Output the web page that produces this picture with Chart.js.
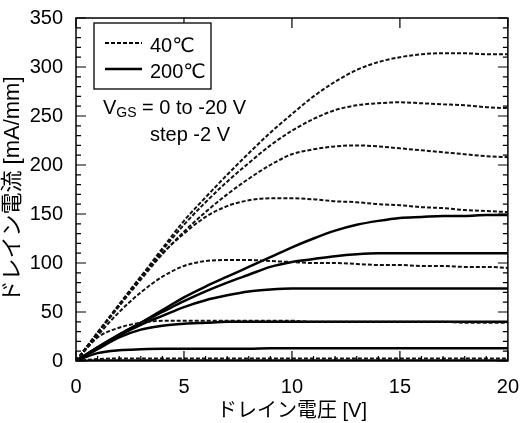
<!DOCTYPE html>
<html>
<head>
<meta charset="utf-8">
<title>ドレイン電流 - ドレイン電圧</title>
<script src="https://cdn.jsdelivr.net/npm/chart.js"></script>
<style>
  body { margin:0; background:#fff; }
  #wrap { width:525px; height:423px; }
</style>
</head>
<body>
<div id="wrap"><canvas id="ivChart" width="525" height="423"></canvas></div>
<script>
// drain voltage [V]
const vds = [0,1,2,3,4,5,6,7,8,9,10,11,12,13,14,15,16,17,18,19,20];

// 40°C, VGS = 0, -2, -4 ...
const d40_0  = [0,29,57,86,115,143,167,190,212,233,252,270,285,297,305,310,313,314,314,313,313];
const d40_2  = [0,29,57,85,113,139,162,183,202,220,235,247,256,261,263,264,263,262,261,259,258];
const d40_4  = [0,28,56,83,109,132,152,170,186,200,211,216,219,220,219,217,215,213,211,209,208];
const d40_6  = [0,29,58,86,110,130,147,158,164,166,166,165,163,162,160,159,157,156,154,153,152];
const d40_8  = [0,26,50,70,86,97,102,103,103,102,101,100,100,99,98,98,97,97,96,96,95];
const d40_10 = [0,24,34,39,41,41,41,41,41,41,41,40,40,40,40,40,40,40,39,39,39];
const d40_12 = [0,2,2.5,2.5,2.5,2.5,2.5,2.5,2.5,2.5,2.5,2.5,2.5,2.5,2.5,2.5,2.5,2.5,2.5,2.5,2.5];

// 200°C
const d200_0  = [0,14,27,39,52,65,76,86,96,106,116,125,133,139,143,146,147,148,148,149,149];
const d200_2  = [0,14,27,39,50,61,71,80,88,96,101,104,107,109,110,110,110,110,110,110,110];
const d200_4  = [0,13,26,37,46,55,62,67,71,73,74,74,74,74,74,74,74,74,74,74,74];
const d200_6  = [0,12,24,32,36,38,39,40,40,40,40,40,40,40,40,40,40,40,40,40,40];
const d200_8  = [0,8,11,12,12.5,12.5,12.5,12.5,12.5,13,13,13,13,13,13,13,13,13,13,13,13];
const d200_10 = [0,0.5,0.5,0.5,0.5,0.5,0.5,0.5,0.5,0.5,0.5,0.5,0.5,0.5,0.5,0.5,0.5,0.5,0.5,0.5,0.5];

const xTicks = [0,5,10,15,20];
const yTicks = [0,50,100,150,200,250,300,350];

const FONT = '"Liberation Sans", Arial, "DejaVu Sans", "Noto Sans CJK JP", sans-serif';
const JFONT = '"Liberation Sans", Arial, "Noto Sans CJK JP", sans-serif';

function pts(arr){ return arr.map((v,i)=>({x:vds[i], y:v})); }

const dashed = [d40_0,d40_2,d40_4,d40_6,d40_8,d40_10,d40_12].map(a=>({
  data: pts(a), borderColor:'#111', borderWidth:2, borderDash:[4,2],
  pointRadius:0, cubicInterpolationMode:'monotone', fill:false
}));
const solid = [d200_0,d200_2,d200_4,d200_6,d200_8,d200_10].map(a=>({
  data: pts(a), borderColor:'#000', borderWidth:2.5,
  pointRadius:0, cubicInterpolationMode:'monotone', fill:false
}));

// frame, inward ticks, legend box and the VGS note
const decor = {
  id:'decor',
  afterDraw(chart){
    const ctx = chart.ctx, a = chart.chartArea;
    const xs = chart.scales.x, ys = chart.scales.y;
    ctx.save();
    ctx.strokeStyle = '#000';
    ctx.lineWidth = 1.5;
    ctx.strokeRect(a.left, a.top, a.right-a.left, a.bottom-a.top);
    ctx.lineWidth = 1.2;
    ctx.beginPath();
    for(let v=0; v<=20; v++){
      const p = xs.getPixelForValue(v);
      const major = v%5===0;
      const len = major ? 10 : 5;
      ctx.moveTo(p, a.bottom); ctx.lineTo(p, a.bottom-len);
      if(major){ ctx.moveTo(p, a.top); ctx.lineTo(p, a.top+len); }
    }
    for(let v=0; v<=350; v+=10){
      const p = ys.getPixelForValue(v);
      const len = v%50===0 ? 10 : 5;
      ctx.moveTo(a.left, p); ctx.lineTo(a.left+len, p);
      ctx.moveTo(a.right, p); ctx.lineTo(a.right-len, p);
    }
    ctx.stroke();

    // legend
    ctx.fillStyle = '#fff';
    ctx.fillRect(94, 23, 117, 66);
    ctx.lineWidth = 1.3;
    ctx.strokeRect(94, 23, 117, 66);
    ctx.lineWidth = 2;
    ctx.setLineDash([4,2]);
    ctx.beginPath(); ctx.moveTo(105,43); ctx.lineTo(142,43); ctx.stroke();
    ctx.setLineDash([]);
    ctx.lineWidth = 2.5;
    ctx.beginPath(); ctx.moveTo(105,69); ctx.lineTo(142,69); ctx.stroke();
    ctx.fillStyle = '#000';
    ctx.font = '20px ' + FONT;
    ctx.textBaseline = 'alphabetic';
    ctx.fillText('40℃', 150, 52);
    ctx.fillText('200℃', 150, 78);

    // VGS note
    ctx.fillText('V', 103, 114);
    let w = ctx.measureText('V').width;
    ctx.font = '14px ' + FONT;
    ctx.fillText('GS', 103+w, 117);
    const w2 = ctx.measureText('GS').width;
    ctx.font = '20px ' + FONT;
    ctx.fillText(' = 0 to -20 V', 103+w+w2, 114);
    ctx.fillText('step -2 V', 150, 141);
    ctx.restore();
  }
};

new Chart(document.getElementById('ivChart'), {
  type:'line',
  data:{ datasets:[...dashed, ...solid] },
  options:{
    responsive:false,
    animation:false,
    devicePixelRatio:1,
    layout:{ padding:{ left:0, top:18, right:14, bottom:0 } },
    plugins:{ legend:{display:false}, tooltip:{enabled:false} },
    scales:{
      x:{
        type:'linear', min:0, max:20,
        afterBuildTicks(s){ s.ticks = xTicks.map(v=>({value:v})); },
        afterFit(s){ s.height = 62; },
        grid:{ display:false },
        border:{ display:false },
        ticks:{ color:'#000', font:{ size:20, family:FONT }, padding:6, maxRotation:0 },
        title:{ display:true, text:'ドレイン電圧 [V]', color:'#000',
                font:{ size:20, family:JFONT }, padding:{top:0,bottom:0} }
      },
      y:{
        type:'linear', min:0, max:350,
        afterBuildTicks(s){ s.ticks = yTicks.map(v=>({value:v})); },
        afterFit(s){ s.width = 76; },
        grid:{ display:false },
        border:{ display:false },
        ticks:{ color:'#000', font:{ size:20, family:FONT }, padding:5 },
        title:{ display:true, text:'ドレイン電流 [mA/mm]', color:'#000',
                font:{ size:22, family:JFONT }, padding:{top:0,bottom:0} }
      }
    }
  },
  plugins:[decor]
});
</script>
</body>
</html>
